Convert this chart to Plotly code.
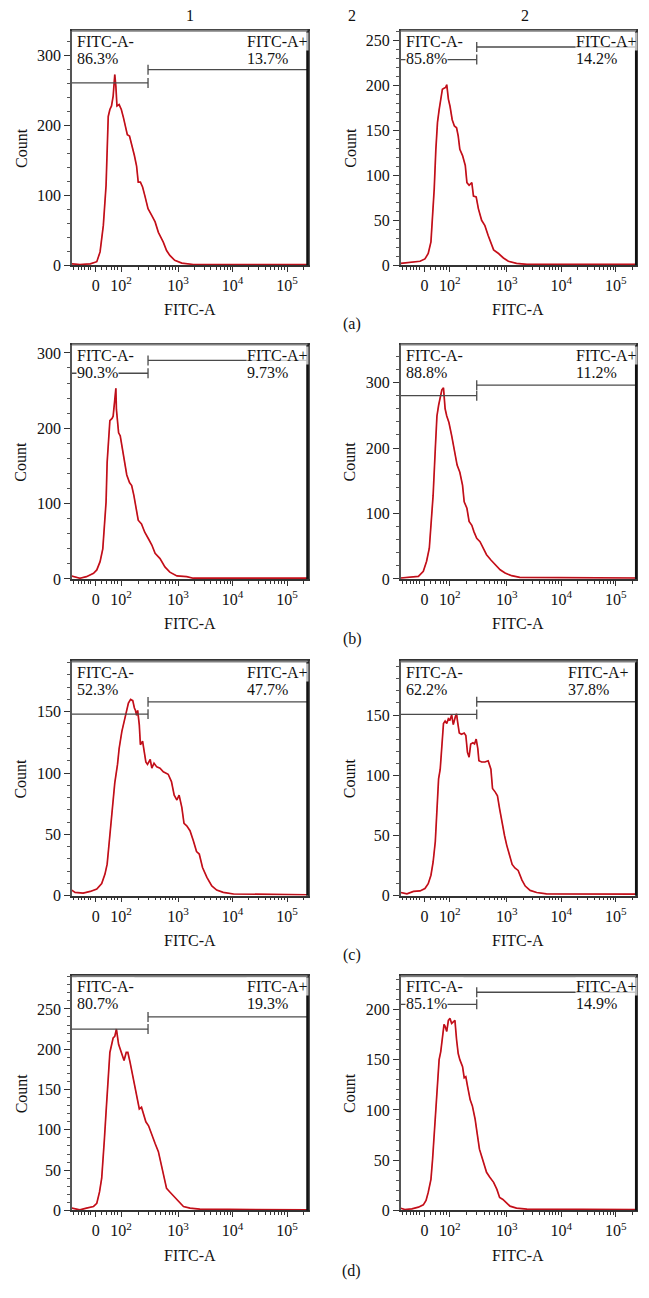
import numpy as np
import plotly.graph_objects as go

FONT = "Liberation Serif"

# ---------------- data (x in display units of the biexponential FITC-A axis) ----------------
a1_fitc = [1.05,1.20,1.39,1.51,1.57,1.60,1.63,1.68,1.70,1.72,1.75,1.78,1.81,1.84,1.86,1.88,1.92,1.96,2.00,2.04,2.07,2.11,2.16,2.20,2.24,2.27,2.31,2.35,2.39,2.45,2.52,2.58,2.64,2.73,2.79,2.85,2.94,3.07,3.28,3.60,5.37]
a1_count = [2,1,2,5,19,38,57,114,171,213,223,228,242,273,256,228,230,223,211,199,187,185,171,157,142,119,119,112,100,81,71,62,47,33,21,14,7,3,1,1,1]

a2_fitc = [1.055,1.23,1.41,1.50,1.56,1.61,1.64,1.67,1.70,1.73,1.76,1.79,1.82,1.85,1.88,1.90,1.93,1.96,2.00,2.04,2.08,2.11,2.14,2.19,2.24,2.27,2.31,2.36,2.39,2.44,2.48,2.54,2.60,2.66,2.76,2.85,2.94,3.03,3.18,3.37,5.37]
a2_count = [2,3,4.4,7,13,26,55,85,129,159,173,185,196,197,198,201,185,177,162,155,153,144,129,122,111,92,89,92,77,76,63,50,44,33,17,13,8,4.4,2,1,1]

b1_fitc = [1.05,1.20,1.32,1.45,1.51,1.57,1.62,1.65,1.68,1.70,1.73,1.75,1.79,1.81,1.84,1.86,1.87,1.91,1.94,1.97,2.01,2.06,2.11,2.15,2.19,2.23,2.27,2.33,2.39,2.46,2.52,2.58,2.67,2.76,2.85,2.98,3.16,3.28,5.37]
b1_count = [4,1,3,7.5,12,23,40,67,102,155,190,210,213,216,238,253,225,194,190,177,164,138,128,124,111,93,78,73,62,53,45,34,27,16,9,4,3,1,1]

b2_fitc = [1.055,1.23,1.38,1.47,1.53,1.58,1.62,1.65,1.69,1.72,1.75,1.78,1.81,1.84,1.87,1.90,1.94,1.99,2.02,2.06,2.09,2.14,2.19,2.22,2.27,2.31,2.36,2.40,2.45,2.51,2.57,2.63,2.71,2.79,2.88,2.97,3.09,3.24,5.37]
b2_count = [1.5,2.5,4,11.6,27,47,88,128,199,249,265,280,289,292,260,249,239,219,204,189,174,163,143,118,108,88,82,72,62,57,47,37,29,22,14,9,5,2.5,1.5]

c1_fitc = [1.05,1.11,1.26,1.39,1.51,1.60,1.66,1.70,1.74,1.77,1.80,1.84,1.89,1.92,1.97,2.01,2.05,2.09,2.13,2.17,2.20,2.22,2.24,2.26,2.29,2.31,2.35,2.38,2.41,2.44,2.49,2.52,2.56,2.61,2.67,2.73,2.82,2.88,2.93,2.98,3.02,3.07,3.11,3.16,3.22,3.28,3.34,3.39,3.45,3.53,3.62,3.71,3.83,4.02,5.37]
c1_count = [4.6,2.7,2.2,3.5,5.4,10,17.6,25.7,44.6,61,77,92,107,120,134,142,151,157,160,159,153,151,147,151,139,123,126,119,109,107,111,104,108,105,104,101,99,93,82,78,82,72,59,57,53,45,36,34,23,15,8,4.6,2.7,1.4,0.8]

c2_fitc = [1.055,1.17,1.29,1.41,1.50,1.56,1.61,1.65,1.69,1.72,1.75,1.78,1.81,1.84,1.87,1.90,1.93,1.96,1.99,2.02,2.06,2.08,2.10,2.13,2.17,2.22,2.25,2.28,2.31,2.34,2.38,2.41,2.44,2.47,2.49,2.54,2.60,2.66,2.71,2.74,2.79,2.83,2.87,2.91,2.96,3.00,3.05,3.10,3.15,3.21,3.28,3.34,3.43,3.55,3.73,5.37]
c2_count = [2.7,1.6,3.6,4,6,10,17,28,45,70,97,105,124,143,145,143,147,146,150,142,149,151,144,135,134,135,133,119,115,126,127,126,130,122,112,111,111,112,105,89,86,83,72,61,50,42,34,26,23,21,13,8,4.4,2.7,1.6,1.4]

d1_fitc = [1.05,1.20,1.32,1.45,1.51,1.56,1.60,1.63,1.65,1.68,1.70,1.73,1.75,1.79,1.81,1.84,1.87,1.91,1.94,1.97,2.01,2.05,2.08,2.12,2.16,2.19,2.22,2.26,2.29,2.33,2.36,2.41,2.46,2.52,2.58,2.64,2.70,2.75,2.79,2.85,2.93,3.01,3.10,3.22,3.40,5.37]
d1_count = [2.9,0.8,2.9,5,9,23,40,64,89,122,147,171,196,208,214,216,225,206,200,194,186,196,196,184,171,159,151,138,126,128,122,110,105,93,83,73,56,40,27.5,23,17,11,5,2.9,1.6,0.8]

d2_fitc = [1.055,1.13,1.26,1.38,1.47,1.52,1.56,1.61,1.64,1.67,1.70,1.73,1.76,1.79,1.83,1.85,1.87,1.90,1.93,1.96,1.99,2.02,2.05,2.08,2.11,2.14,2.19,2.22,2.25,2.28,2.33,2.37,2.42,2.46,2.50,2.54,2.58,2.63,2.69,2.76,2.82,2.87,2.93,2.99,3.06,3.18,3.37,5.37]
d2_count = [2.3,1,1.6,3.3,5.6,10,18,31,51,77,107,130,150,158,176,185,183,178,189,191,186,188,189,170,156,150,143,132,133,124,110,104,91,76,61,54,46,38,33,28,21,13,11,8,4.3,2.3,1.3,1]

neg_pct = ["86.3%", "85.8%", "90.3%", "88.8%", "52.3%", "62.2%", "80.7%", "85.1%"]
pos_pct = ["13.7%", "14.2%", "9.73%", "11.2%", "47.7%", "37.8%", "19.3%", "14.9%"]
gate_neg_level = [261, 229, 273, 280, 148, 150.5, 225, 205]
gate_pos_level = [280, 243, 290, 296, 158, 161, 240, 217]
gate_position = 2.45

tick_text = ["0", "10<sup>2</sup>", "10<sup>3</sup>", "10<sup>4</sup>", "10<sup>5</sup>"]
tick_pos = [1.49, 1.954, 3, 4, 5]

series = [(a1_fitc, a1_count), (a2_fitc, a2_count), (b1_fitc, b1_count), (b2_fitc, b2_count),
          (c1_fitc, c1_count), (c2_fitc, c2_count), (d1_fitc, d1_count), (d2_fitc, d2_count)]

# ---------------- layout settings ----------------
PAGE_W, PAGE_H = 649, 1298
OFF = 8                      # default page margin around the plot div
W, H = PAGE_W - 2 * OFF, PAGE_H - 2 * OFF
XR = [1.055, 5.376]
y_max = [335.6, 261, 311, 358, 191, 194.5, 290.6, 233]
y_major = [100, 50, 100, 100, 50, 50, 50, 50]
y_minor = [20, 10, 20, 20, 10, 10, 10, 10]
col_left = [72, 400.7]
plot_w = 235.5
row_top = [31, 347, 666, 983]
plot_h = 236


def px_x(px):
    return (px - OFF) / W


def px_y(py):
    return 1 - (py - OFF) / H


minor_x = [1.09, 1.17, 1.23, 1.29, 1.35, 1.40, 1.60, 1.69, 1.78, 1.84, 1.89]
for k in range(2, 10):
    minor_x.append(1.954 + np.log10(k) * 1.046)
    minor_x.append(3 + np.log10(k))
    minor_x.append(4 + np.log10(k))
minor_x.append(5 + np.log10(2))

fig = go.Figure()
layout = dict(width=W, height=H, margin=dict(l=0, r=0, t=0, b=0),
              paper_bgcolor="white", plot_bgcolor="white", showlegend=False,
              font=dict(family=FONT, size=16, color="#111"))
annotations = []
shapes = []

for i, (fx, cy) in enumerate(series):
    n = i + 1
    r, c = divmod(i, 2)
    left = col_left[c]
    top = row_top[r]
    xs = "" if n == 1 else str(n)
    xa, ya = "x" + xs, "y" + xs
    xdom = [px_x(left), px_x(left + plot_w)]
    ydom = [px_y(top + plot_h), px_y(top)]
    layout["xaxis" + xs] = dict(
        domain=xdom, range=XR, anchor=ya, showgrid=False, zeroline=False,
        showline=True, linecolor="#333", linewidth=1.5, mirror=True,
        ticks="outside", ticklen=5, tickwidth=1, tickcolor="#333",
        tickmode="array", tickvals=tick_pos, ticktext=tick_text,
        tickfont=dict(family=FONT, size=16, color="#111"),
        minor=dict(tickmode="array", tickvals=minor_x, ticks="outside", ticklen=3, tickcolor="#333", tickwidth=1),
        fixedrange=True)
    layout["yaxis" + xs] = dict(
        domain=ydom, range=[0, y_max[i]], anchor=xa, showgrid=False, zeroline=False,
        showline=True, linecolor="#555", linewidth=1.5, mirror=True,
        ticks="outside", ticklen=6, tickwidth=1, tickcolor="#333",
        tick0=0, dtick=y_major[i],
        tickfont=dict(family=FONT, size=16, color="#111"),
        minor=dict(dtick=y_minor[i], tick0=0, ticks="outside", ticklen=3, tickcolor="#555", tickwidth=1),
        fixedrange=True)

    # histogram line
    fig.add_trace(go.Scatter(x=fx, y=cy, xaxis=xa, yaxis=ya, mode="lines",
                             line=dict(color="#d8141e", width=1.7), hoverinfo="skip"))
    fig.add_trace(go.Scatter(x=fx, y=cy, xaxis=xa, yaxis=ya, mode="lines",
                             line=dict(color="#7a0c18", width=0.6), opacity=0.6, hoverinfo="skip"))

    # gates
    d = 5 * y_max[i] / plot_h
    gn, gp = gate_neg_level[i], gate_pos_level[i]
    gx = [XR[0], gate_position, None, gate_position, gate_position, None,
          gate_position, XR[1], None, gate_position, gate_position]
    gy = [gn, gn, None, gn - d, gn + d, None, gp, gp, None, gp - d, gp + d]
    fig.add_trace(go.Scatter(x=gx, y=gy, xaxis=xa, yaxis=ya, mode="lines",
                             line=dict(color="#4a4a4a", width=1.3), hoverinfo="skip", cliponaxis=False))

    # frame accents
    shapes.append(dict(type="line", xref=xa + " domain", yref=ya + " domain", x0=1, x1=1, y0=0, y1=1,
                       line=dict(color="#111", width=2.5), layer="above"))
    shapes.append(dict(type="line", xref=xa + " domain", yref=ya + " domain", x0=0, x1=1, y0=1, y1=1,
                       line=dict(color="#808080", width=2), layer="above"))

    # gate labels
    def lab(txt, xd, ypx, bg):
        annotations.append(dict(text=txt, xref=xa + " domain", yref=ya + " domain",
                                x=xd / plot_w, y=1 - ypx / plot_h, xanchor="left", yanchor="middle",
                                showarrow=False, bgcolor=bg, borderpad=0,
                                font=dict(family=FONT, size=16, color="#111")))
    pos_x = 166 if i == 5 else 174
    lab("FITC-A-", 4, 10.7, "white")
    lab(neg_pct[i], 4, 28, "white")
    lab("FITC-A+", pos_x, 10.7, "rgba(255,255,255,0.7)")
    lab(pos_pct[i], pos_x, 28, "rgba(255,255,255,0.7)")

    # axis titles
    annotations.append(dict(text="Count", xref=xa + " domain", yref=ya + " domain",
                            x=-51 / plot_w, y=0.5, textangle=-90, showarrow=False,
                            xanchor="center", yanchor="middle", font=dict(family=FONT, size=16, color="#111")))
    annotations.append(dict(text="FITC-A", xref=xa + " domain", yref=ya + " domain",
                            x=0.5, y=-45 / plot_h, showarrow=False,
                            xanchor="center", yanchor="middle", font=dict(family=FONT, size=16, color="#111")))

# figure-level labels
for txt, px, py in [("1", 190, 16), ("2", 352, 16), ("2", 525, 16),
                    ("(a)", 352, 326), ("(b)", 352, 643), ("(c)", 352, 962), ("(d)", 351, 1280)]:
    annotations.append(dict(text=txt, xref="paper", yref="paper", x=px_x(px), y=px_y(py),
                            xanchor="center", yanchor="middle", showarrow=False,
                            font=dict(family=FONT, size=16, color="#111")))

layout["annotations"] = annotations
layout["shapes"] = shapes
fig.update_layout(**layout)
fig.write_html("out.html")
